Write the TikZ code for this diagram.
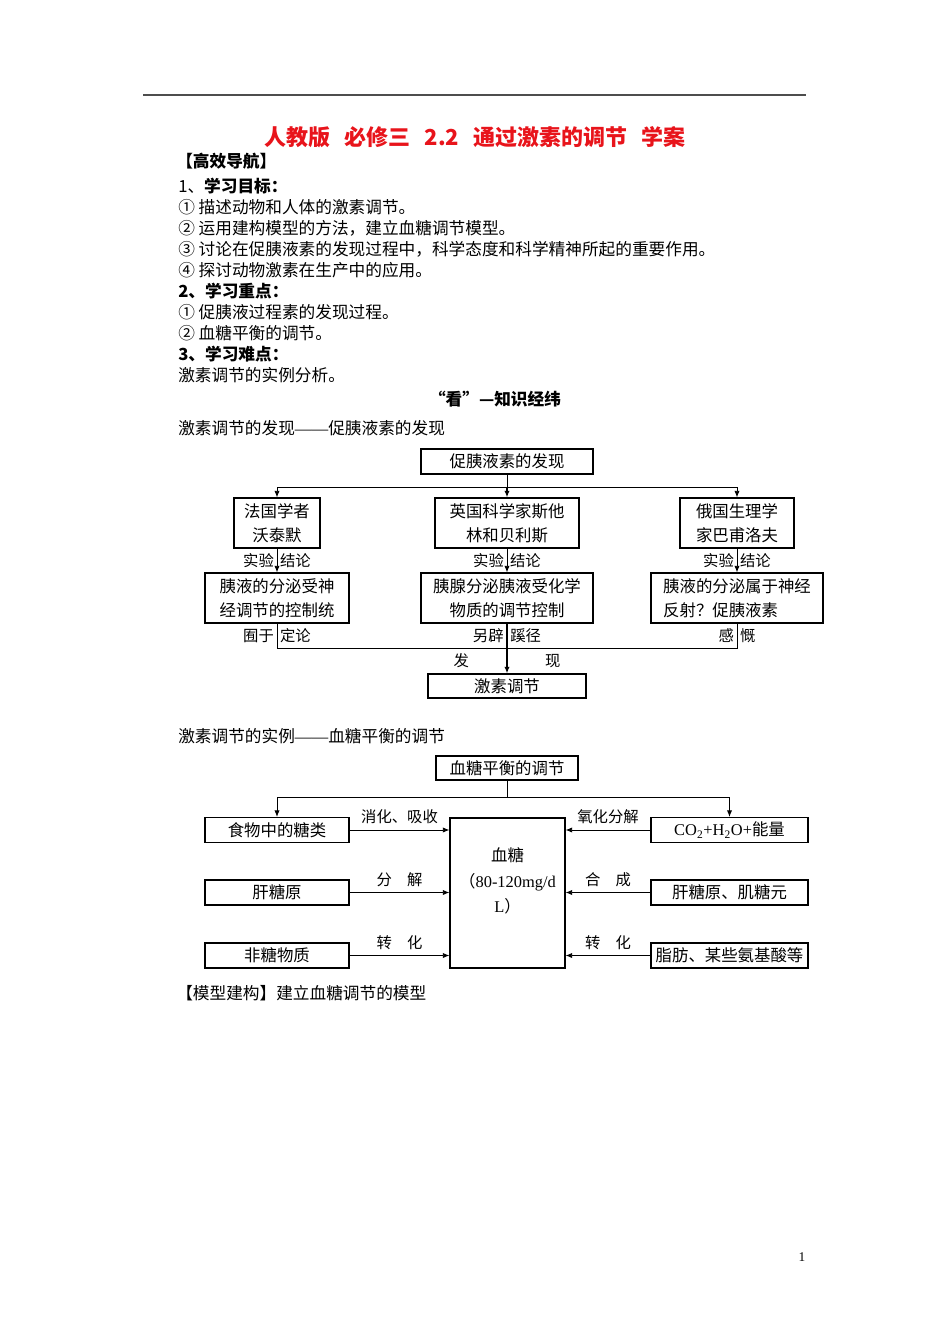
\documentclass[tikz,border=0pt]{standalone}
\usepackage{fontspec}
\setmainfont{Noto Sans CJK SC}
\newfontfamily\latin{Liberation Serif}
\usepackage{tikz}
\usetikzlibrary{positioning,arrows.meta}
\definecolor{TitleRed}{HTML}{E8141B}
\definecolor{RuleGray}{HTML}{4D4D4D}

\begin{document}
\begin{tikzpicture}[x=0.75pt, y=-0.75pt, every node/.style={inner sep=0pt, font=\fontsize{12.5}{14}\selectfont},
  txt/.style={anchor=west},
  head/.style={anchor=west, font=\fontsize{12.5}{14}\selectfont\bfseries},
  box/.style={draw, line width=0.8pt, align=center, font=\fontsize{12.3}{18}\selectfont},
  lbl/.style={font=\fontsize{11.5}{13}\selectfont, inner sep=2pt},
  arr/.style={line width=0.7pt, -{Latex[length=5pt,width=4pt]}},
  link/.style={line width=0.7pt}]
  \useasboundingbox (0,0) rectangle (950,1344);
  \draw[RuleGray, line width=1.5pt] (143,95) -- (806,95);

  % heading and study aims
  \node[text=TitleRed, font=\fontsize{16.5}{20}\selectfont\bfseries] (title) at (475,137)
    {人教版\hspace{0.65em}必修三\hspace{0.65em}2.2\hspace{0.65em}通过激素的调节\hspace{0.65em}学案};
  \node[head] (nav) at (176,161) {【高效导航】};
  \node[head] (aims) at (178,186) {{\mdseries 1、}学习目标：};
  \node[txt] (aim1) at (178,207) {① 描述动物和人体的激素调节。};
  \node[txt] (aim2) at (178,228) {② 运用建构模型的方法，建立血糖调节模型。};
  \node[txt] (aim3) at (178,249) {③ 讨论在促胰液素的发现过程中，科学态度和科学精神所起的重要作用。};
  \node[txt] (aim4) at (178,270) {④ 探讨动物激素在生产中的应用。};
  \node[head] (keys) at (178,291) {2、学习重点：};
  \node[txt] (key1) at (178,312) {① 促胰液过程素的发现过程。};
  \node[txt] (key2) at (178,333) {② 血糖平衡的调节。};
  \node[head] (hard) at (178,354) {3、学习难点：};
  \node[txt] (hard1) at (178,375) {激素调节的实例分析。};
  \node[font=\fontsize{12.5}{14}\selectfont\bfseries] (look) at (495,399) {“看”—知识经纬};
  \node[txt] (sec1) at (178,428) {激素调节的发现{\latin ——}促胰液素的发现};

  % discovery of secretin
  \node[box, minimum width=129pt, minimum height=18.75pt] (disc) at (507,461.5) {促胰液素的发现};
  \node[box, minimum width=64.5pt, minimum height=37.5pt] (fr) at (277,523) {法国学者\\沃泰默};
  \node[box, minimum width=108pt, minimum height=37.5pt] (en) at (507,523) {英国科学家斯他\\林和贝利斯};
  \node[box, minimum width=85.5pt, minimum height=37.5pt] (ru) at (737,523) {俄国生理学\\家巴甫洛夫};
  \node[box, minimum width=108pt, minimum height=37.5pt] (frc) at (277,598) {胰液的分泌受神\\经调节的控制统};
  \node[box, minimum width=129pt, minimum height=37.5pt] (enc) at (507,598) {胰腺分泌胰液受化学\\物质的调节控制};
  \node[box, align=left, minimum width=129pt, minimum height=37.5pt] (ruc) at (737,598) {胰液的分泌属于神经\\反射？促胰液素};
  \node[box, minimum width=118.5pt, minimum height=18pt] (horm) at (507,686) {激素调节};
  \coordinate (split) at (507,487);
  \coordinate (mrg) at (507,648);
  \draw[link] (disc) -- (split);
  \draw[arr] (split) -| (fr);
  \draw[arr, line width=1.1pt] (split) -- (en);
  \draw[arr] (split) -| (ru);
  \draw[arr] (fr) -- node[lbl, left]{实验} node[lbl, right]{结论} (frc);
  \draw[arr] (en) -- node[lbl, left]{实验} node[lbl, right]{结论} (enc);
  \draw[arr] (ru) -- node[lbl, left]{实验} node[lbl, right]{结论} (ruc);
  \draw[link] (frc) |- node[lbl, pos=0.25, left]{囿于} node[lbl, pos=0.25, right]{定论} (mrg);
  \draw[link] (ruc) |- node[lbl, pos=0.25, left]{感} node[lbl, pos=0.25, right]{慨} (mrg);
  \draw[arr, line width=1.1pt] (enc) -- node[lbl, pos=0.25, left]{另辟} node[lbl, pos=0.25, right]{蹊径}
    node[lbl, pos=0.75, left=26pt]{发} node[lbl, pos=0.75, right=26pt]{现} (horm);

  % blood sugar balance
  \node[txt] (sec2) at (178,736) {激素调节的实例{\latin ——}血糖平衡的调节};
  \node[box, minimum width=106.5pt, minimum height=18pt] (bal) at (507,768) {血糖平衡的调节};
  \node[box, minimum width=108pt, minimum height=18.75pt] (food) at (277,830) {食物中的糖类};
  \node[box, minimum width=108pt, minimum height=18.75pt] (liver) at (277,892.5) {肝糖原};
  \node[box, minimum width=108pt, minimum height=18.75pt] (nons) at (277,955.5) {非糖物质};
  \node[box, minimum width=86.25pt, minimum height=112.5pt] (bs) at (507.5,893) {};
  \node[align=center, font=\fontsize{12.3}{19}\selectfont] (bst) at (507.5,881) {血糖\\（{\latin 80-120mg/d}\\{\latin L}）};
  \node[box, minimum width=117.75pt, minimum height=18.75pt] (co2) at (729.5,830) {{\latin CO\textsubscript{2}+H\textsubscript{2}O+}能量};
  \node[box, minimum width=117.75pt, minimum height=18.75pt] (glyc) at (729.5,892.5) {肝糖原、肌糖元};
  \node[box, minimum width=117.75pt, minimum height=18.75pt] (fat) at (729.5,955.5) {脂肪、某些氨基酸等};
  \coordinate (split2) at (507,797);
  \draw[link] (bal) -- (split2);
  \draw[arr] (split2) -| (food);
  \draw[arr] (split2) -| (co2);
  \draw[arr] (food.east) -- node[lbl, above=2pt]{消化、吸收} (food.east -| bs.west);
  \draw[arr] (liver.east) -- node[lbl, above=2pt]{分　解} (liver.east -| bs.west);
  \draw[arr] (nons.east) -- node[lbl, above=2pt]{转　化} (nons.east -| bs.west);
  \draw[arr] (co2.west) -- node[lbl, above=2pt]{氧化分解} (co2.west -| bs.east);
  \draw[arr] (glyc.west) -- node[lbl, above=2pt]{合　成} (glyc.west -| bs.east);
  \draw[arr] (fat.west) -- node[lbl, above=2pt]{转　化} (fat.west -| bs.east);
  \node[txt] (model) at (176,993) {【模型建构】建立血糖调节的模型};
  \node[font=\latin\fontsize{10}{12}\selectfont] (pgno) at (802,1257) {1};
\end{tikzpicture}
\end{document}
